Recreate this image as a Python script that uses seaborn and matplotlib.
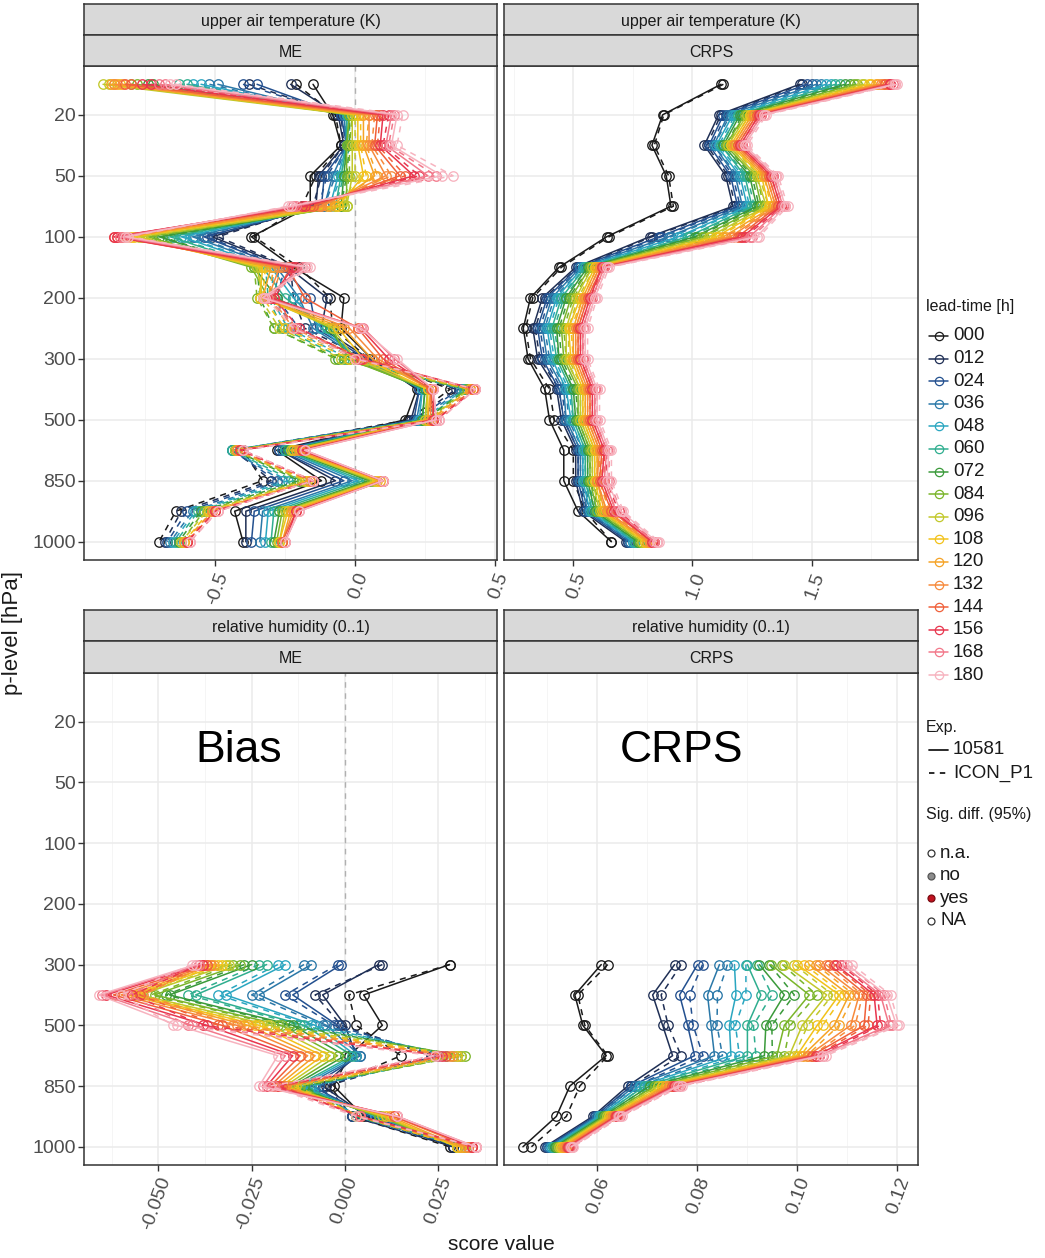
import numpy as np
import pandas as pd
import matplotlib
matplotlib.use("Agg")
import matplotlib.pyplot as plt
import seaborn as sns
from matplotlib.lines import Line2D

# ---------------- data ----------------
LEVELS = [10, 20, 30, 50, 70, 100, 150, 200, 250, 300, 400, 500, 700, 850, 925, 1000]
LEVEL_TICKS = [20, 50, 100, 200, 300, 500, 850, 1000]
RH_LEVELS = [300, 400, 500, 700, 850, 925, 1000]
LEADS = ["000", "012", "024", "036", "048", "060", "072", "084",
         "096", "108", "120", "132", "144", "156", "168", "180"]
EXPS = ["10581", "ICON_P1"]
LEAD_COLORS = ["#1a1a1a", "#1f2f55", "#23508f", "#2a78a8", "#2aa6c0", "#2fae8f",
               "#3a9a3a", "#7ab52a", "#c2c82a", "#f2c21a", "#f5a326", "#f78a3c",
               "#f0603a", "#e8364e", "#f2788a", "#f7b3bf"]

# rows = pressure levels (LEVELS), columns = lead times (LEADS)
temp_me_10581 = [
    [-0.15, -0.23, -0.35, -0.49, -0.55, -0.60, -0.74, -0.78, -0.90, -0.86, -0.87, -0.83, -0.82, -0.76, -0.70, -0.66],
    [-0.08, -0.06, -0.05, -0.04, -0.03, -0.03, -0.02, -0.02, -0.01, 0.01, 0.03, 0.05, 0.08, 0.10, 0.13, 0.15],
    [-0.05, -0.04, -0.03, -0.03, -0.03, -0.03, -0.03, -0.03, -0.01, 0.01, 0.03, 0.05, 0.07, 0.09, 0.11, 0.13],
    [-0.16, -0.13, -0.11, -0.08, -0.06, -0.05, -0.04, -0.03, -0.01, 0.03, 0.07, 0.11, 0.16, 0.21, 0.26, 0.31],
    [-0.16, -0.14, -0.12, -0.11, -0.09, -0.07, -0.05, -0.03, -0.03, -0.06, -0.09, -0.12, -0.15, -0.18, -0.21, -0.23],
    [-0.37, -0.51, -0.54, -0.58, -0.62, -0.66, -0.70, -0.74, -0.77, -0.80, -0.82, -0.84, -0.86, -0.86, -0.84, -0.82],
    [-0.22, -0.24, -0.26, -0.28, -0.30, -0.33, -0.36, -0.37, -0.35, -0.33, -0.30, -0.27, -0.24, -0.22, -0.19, -0.17],
    [-0.04, -0.10, -0.16, -0.20, -0.22, -0.25, -0.28, -0.31, -0.33, -0.34, -0.33, -0.31, -0.18, -0.30, -0.32, -0.33],
    [-0.05, -0.12, -0.14, -0.15, -0.12, -0.10, -0.09, -0.08, -0.08, -0.06, -0.04, -0.02, 0.01, 0.02, 0.03, 0.02],
    [0.06, 0.05, 0.04, 0.02, 0.01, 0.00, -0.02, -0.03, 0.00, 0.03, 0.06, 0.08, 0.10, 0.12, 0.14, 0.15],
    [0.22, 0.23, 0.23, 0.24, 0.24, 0.25, 0.25, 0.26, 0.26, 0.26, 0.27, 0.27, 0.27, 0.28, 0.28, 0.28],
    [0.18, 0.20, 0.21, 0.22, 0.23, 0.24, 0.24, 0.25, 0.25, 0.26, 0.26, 0.27, 0.28, 0.28, 0.29, 0.29],
    [-0.28, -0.27, -0.27, -0.26, -0.25, -0.25, -0.24, -0.23, -0.23, -0.22, -0.21, -0.20, -0.19, -0.19, -0.18, -0.18],
    [-0.12, -0.07, -0.04, -0.01, 0.01, 0.03, 0.05, 0.06, 0.07, 0.08, 0.09, 0.10, 0.10, 0.10, 0.10, 0.10],
    [-0.43, -0.39, -0.36, -0.33, -0.31, -0.29, -0.27, -0.26, -0.25, -0.24, -0.23, -0.22, -0.21, -0.21, -0.20, -0.20],
    [-0.40, -0.39, -0.37, -0.34, -0.32, -0.30, -0.29, -0.28, -0.27, -0.27, -0.26, -0.26, -0.26, -0.25, -0.25, -0.25],
]
temp_me_icon = [
    [-0.21, -0.38, -0.40, -0.52, -0.58, -0.63, -0.72, -0.80, -0.88, -0.84, -0.85, -0.86, -0.80, -0.73, -0.68, -0.64],
    [-0.07, -0.05, -0.05, -0.04, -0.03, -0.02, -0.02, -0.01, 0.00, 0.02, 0.05, 0.07, 0.09, 0.12, 0.14, 0.17],
    [-0.05, -0.04, -0.03, -0.03, -0.03, -0.02, -0.02, -0.02, 0.00, 0.02, 0.04, 0.06, 0.08, 0.10, 0.12, 0.15],
    [-0.14, -0.12, -0.10, -0.07, -0.05, -0.04, -0.03, -0.02, 0.00, 0.04, 0.08, 0.13, 0.18, 0.23, 0.29, 0.35],
    [-0.19, -0.15, -0.13, -0.11, -0.09, -0.07, -0.05, -0.04, -0.04, -0.07, -0.10, -0.13, -0.16, -0.19, -0.22, -0.24],
    [-0.36, -0.49, -0.53, -0.57, -0.61, -0.65, -0.69, -0.73, -0.76, -0.79, -0.81, -0.83, -0.85, -0.85, -0.83, -0.81],
    [-0.20, -0.23, -0.25, -0.27, -0.29, -0.32, -0.35, -0.36, -0.34, -0.32, -0.29, -0.26, -0.23, -0.21, -0.18, -0.16],
    [-0.09, -0.22, -0.28, -0.29, -0.30, -0.31, -0.34, -0.35, -0.34, -0.33, -0.31, -0.30, -0.29, -0.29, -0.31, -0.32],
    [-0.08, -0.18, -0.20, -0.22, -0.24, -0.26, -0.29, -0.29, -0.27, -0.25, -0.23, -0.22, -0.21, -0.20, -0.21, -0.22],
    [0.05, 0.04, 0.02, 0.00, -0.02, -0.04, -0.06, -0.07, -0.05, -0.02, 0.00, 0.02, 0.03, 0.02, 0.01, 0.00],
    [0.34, 0.36, 0.37, 0.38, 0.39, 0.39, 0.40, 0.40, 0.41, 0.41, 0.41, 0.42, 0.42, 0.43, 0.43, 0.43],
    [0.19, 0.21, 0.22, 0.23, 0.24, 0.25, 0.25, 0.26, 0.26, 0.27, 0.27, 0.28, 0.29, 0.29, 0.30, 0.30],
    [-0.40, -0.43, -0.44, -0.44, -0.44, -0.44, -0.43, -0.43, -0.43, -0.42, -0.42, -0.42, -0.41, -0.41, -0.40, -0.40],
    [-0.33, -0.30, -0.28, -0.26, -0.24, -0.22, -0.20, -0.19, -0.18, -0.17, -0.16, -0.16, -0.15, -0.15, -0.15, -0.15],
    [-0.64, -0.62, -0.60, -0.58, -0.57, -0.56, -0.55, -0.54, -0.53, -0.52, -0.51, -0.51, -0.50, -0.50, -0.49, -0.49],
    [-0.70, -0.68, -0.67, -0.66, -0.65, -0.64, -0.63, -0.62, -0.62, -0.61, -0.61, -0.60, -0.60, -0.60, -0.59, -0.59],
]
temp_crps_10581 = [
    [1.12, 1.45, 1.48, 1.52, 1.56, 1.60, 1.64, 1.68, 1.71, 1.74, 1.77, 1.79, 1.81, 1.83, 1.84, 1.85],
    [0.875, 1.11, 1.13, 1.15, 1.17, 1.19, 1.20, 1.22, 1.23, 1.24, 1.25, 1.26, 1.27, 1.28, 1.29, 1.30],
    [0.83, 1.05, 1.07, 1.09, 1.10, 1.12, 1.13, 1.14, 1.15, 1.16, 1.17, 1.18, 1.19, 1.20, 1.21, 1.22],
    [0.89, 1.14, 1.16, 1.18, 1.20, 1.22, 1.24, 1.26, 1.27, 1.29, 1.30, 1.31, 1.32, 1.33, 1.34, 1.35],
    [0.91, 1.17, 1.19, 1.21, 1.23, 1.25, 1.27, 1.29, 1.31, 1.32, 1.34, 1.35, 1.36, 1.37, 1.38, 1.39],
    [0.64, 0.82, 0.86, 0.90, 0.94, 0.98, 1.01, 1.04, 1.07, 1.10, 1.13, 1.16, 1.19, 1.21, 1.24, 1.27],
    [0.44, 0.51, 0.52, 0.53, 0.54, 0.55, 0.56, 0.57, 0.58, 0.59, 0.60, 0.61, 0.62, 0.62, 0.63, 0.64],
    [0.32, 0.37, 0.39, 0.41, 0.43, 0.45, 0.47, 0.49, 0.51, 0.53, 0.54, 0.55, 0.56, 0.57, 0.58, 0.59],
    [0.29, 0.33, 0.35, 0.37, 0.39, 0.41, 0.43, 0.45, 0.47, 0.48, 0.50, 0.51, 0.52, 0.53, 0.54, 0.55],
    [0.31, 0.35, 0.37, 0.39, 0.41, 0.43, 0.44, 0.46, 0.47, 0.49, 0.50, 0.51, 0.52, 0.53, 0.54, 0.55],
    [0.38, 0.43, 0.44, 0.46, 0.47, 0.49, 0.50, 0.52, 0.53, 0.54, 0.55, 0.56, 0.57, 0.58, 0.59, 0.60],
    [0.40, 0.45, 0.46, 0.47, 0.49, 0.50, 0.51, 0.52, 0.53, 0.54, 0.55, 0.56, 0.57, 0.58, 0.59, 0.60],
    [0.46, 0.51, 0.52, 0.53, 0.54, 0.55, 0.56, 0.57, 0.58, 0.59, 0.60, 0.61, 0.62, 0.63, 0.64, 0.65],
    [0.46, 0.51, 0.52, 0.53, 0.54, 0.55, 0.56, 0.57, 0.58, 0.59, 0.60, 0.60, 0.61, 0.62, 0.63, 0.64],
    [0.52, 0.54, 0.55, 0.56, 0.57, 0.58, 0.59, 0.60, 0.61, 0.62, 0.63, 0.64, 0.66, 0.67, 0.68, 0.70],
    [0.66, 0.72, 0.73, 0.74, 0.75, 0.76, 0.77, 0.78, 0.79, 0.80, 0.81, 0.82, 0.83, 0.83, 0.84, 0.85],
]
temp_crps_icon = [
    [1.13, 1.46, 1.50, 1.54, 1.58, 1.62, 1.66, 1.69, 1.72, 1.75, 1.78, 1.80, 1.82, 1.83, 1.85, 1.86],
    [0.88, 1.12, 1.14, 1.16, 1.18, 1.19, 1.21, 1.22, 1.24, 1.25, 1.26, 1.27, 1.28, 1.29, 1.30, 1.31],
    [0.84, 1.06, 1.08, 1.09, 1.11, 1.12, 1.14, 1.15, 1.16, 1.17, 1.18, 1.19, 1.20, 1.21, 1.22, 1.23],
    [0.90, 1.15, 1.17, 1.19, 1.21, 1.23, 1.25, 1.27, 1.28, 1.30, 1.31, 1.32, 1.33, 1.34, 1.35, 1.36],
    [0.92, 1.18, 1.20, 1.22, 1.24, 1.26, 1.28, 1.30, 1.32, 1.33, 1.35, 1.36, 1.37, 1.38, 1.39, 1.40],
    [0.65, 0.83, 0.87, 0.91, 0.95, 0.99, 1.02, 1.05, 1.08, 1.11, 1.14, 1.17, 1.20, 1.22, 1.25, 1.28],
    [0.45, 0.52, 0.53, 0.54, 0.55, 0.56, 0.57, 0.58, 0.59, 0.60, 0.61, 0.62, 0.63, 0.63, 0.64, 0.65],
    [0.33, 0.38, 0.40, 0.42, 0.44, 0.46, 0.48, 0.50, 0.52, 0.54, 0.55, 0.56, 0.57, 0.58, 0.59, 0.60],
    [0.30, 0.34, 0.36, 0.38, 0.40, 0.42, 0.44, 0.46, 0.48, 0.49, 0.51, 0.52, 0.53, 0.54, 0.55, 0.56],
    [0.32, 0.36, 0.38, 0.40, 0.42, 0.44, 0.45, 0.47, 0.48, 0.50, 0.51, 0.52, 0.53, 0.54, 0.55, 0.56],
    [0.40, 0.44, 0.45, 0.47, 0.48, 0.50, 0.51, 0.53, 0.54, 0.55, 0.56, 0.57, 0.58, 0.59, 0.60, 0.61],
    [0.42, 0.46, 0.47, 0.48, 0.50, 0.51, 0.52, 0.53, 0.54, 0.55, 0.56, 0.57, 0.58, 0.59, 0.60, 0.61],
    [0.50, 0.52, 0.53, 0.54, 0.55, 0.56, 0.57, 0.58, 0.59, 0.60, 0.61, 0.62, 0.63, 0.64, 0.65, 0.66],
    [0.50, 0.52, 0.53, 0.54, 0.55, 0.56, 0.57, 0.58, 0.59, 0.60, 0.61, 0.62, 0.63, 0.64, 0.65, 0.66],
    [0.55, 0.56, 0.57, 0.58, 0.59, 0.60, 0.61, 0.62, 0.63, 0.64, 0.65, 0.66, 0.68, 0.69, 0.70, 0.71],
    [0.66, 0.73, 0.74, 0.75, 0.76, 0.77, 0.78, 0.79, 0.80, 0.81, 0.82, 0.83, 0.84, 0.84, 0.85, 0.86],
]
# rows = RH_LEVELS, columns = LEADS
rh_me_10581 = [
    [0.028, 0.009, -0.001, -0.009, -0.016, -0.021, -0.025, -0.028, -0.031, -0.033, -0.035, -0.036, -0.037, -0.038, -0.039, -0.040],
    [0.005, -0.006, -0.014, -0.023, -0.032, -0.040, -0.047, -0.051, -0.055, -0.057, -0.058, -0.060, -0.062, -0.064, -0.065, -0.066],
    [0.010, 0.000, -0.002, -0.005, -0.008, -0.011, -0.014, -0.017, -0.020, -0.023, -0.026, -0.029, -0.033, -0.037, -0.041, -0.045],
    [0.001, 0.003, 0.004, 0.004, 0.003, 0.002, 0.000, -0.002, -0.004, -0.006, -0.008, -0.010, -0.012, -0.014, -0.016, -0.018],
    [-0.003, -0.006, -0.009, -0.011, -0.012, -0.013, -0.014, -0.015, -0.016, -0.017, -0.018, -0.019, -0.020, -0.021, -0.022, -0.023],
    [0.005, 0.006, 0.007, 0.008, 0.008, 0.009, 0.009, 0.009, 0.010, 0.011, 0.012, 0.013, 0.013, 0.014, 0.014, 0.014],
    [0.029, 0.029, 0.030, 0.031, 0.032, 0.032, 0.031, 0.030, 0.030, 0.030, 0.031, 0.033, 0.034, 0.034, 0.035, 0.035],
]
rh_me_icon = [
    [0.028, 0.010, -0.002, -0.011, -0.018, -0.023, -0.027, -0.030, -0.032, -0.034, -0.036, -0.037, -0.038, -0.039, -0.040, -0.041],
    [0.001, -0.008, -0.016, -0.025, -0.034, -0.042, -0.048, -0.052, -0.055, -0.056, -0.055, -0.054, -0.055, -0.057, -0.058, -0.060],
    [0.003, -0.001, -0.003, -0.006, -0.009, -0.012, -0.015, -0.018, -0.021, -0.024, -0.027, -0.030, -0.034, -0.038, -0.042, -0.046],
    [0.015, 0.023, 0.025, 0.027, 0.029, 0.030, 0.031, 0.032, 0.031, 0.030, 0.029, 0.028, 0.027, 0.026, 0.025, 0.024],
    [-0.004, -0.005, -0.007, -0.008, -0.009, -0.010, -0.011, -0.012, -0.013, -0.014, -0.015, -0.016, -0.017, -0.018, -0.019, -0.020],
    [0.002, 0.002, 0.002, 0.003, 0.003, 0.003, 0.003, 0.003, 0.004, 0.004, 0.004, 0.004, 0.004, 0.004, 0.004, 0.003],
    [0.028, 0.029, 0.030, 0.031, 0.032, 0.033, 0.033, 0.032, 0.031, 0.031, 0.032, 0.033, 0.034, 0.035, 0.035, 0.035],
]
rh_crps_10581 = [
    [0.0608, 0.0755, 0.0801, 0.0845, 0.0875, 0.0901, 0.0925, 0.0948, 0.0975, 0.1001, 0.1025, 0.1045, 0.1065, 0.1078, 0.1091, 0.1101],
    [0.0555, 0.0711, 0.0765, 0.0821, 0.0878, 0.0928, 0.0975, 0.1025, 0.1060, 0.1085, 0.1105, 0.1125, 0.1140, 0.1155, 0.1168, 0.1180],
    [0.0571, 0.0731, 0.0781, 0.0828, 0.0865, 0.0901, 0.0938, 0.0975, 0.1011, 0.1041, 0.1075, 0.1108, 0.1135, 0.1161, 0.1185, 0.1200],
    [0.0618, 0.0751, 0.0795, 0.0835, 0.0868, 0.0901, 0.0935, 0.0960, 0.0985, 0.1000, 0.1012, 0.1022, 0.1030, 0.1038, 0.1045, 0.1050],
    [0.0545, 0.0661, 0.0668, 0.0675, 0.0685, 0.0695, 0.0705, 0.0715, 0.0722, 0.0730, 0.0737, 0.0743, 0.0749, 0.0754, 0.0758, 0.0762],
    [0.0518, 0.0591, 0.0595, 0.0599, 0.0603, 0.0607, 0.0611, 0.0615, 0.0619, 0.0623, 0.0627, 0.0631, 0.0635, 0.0638, 0.0641, 0.0644],
    [0.0451, 0.0495, 0.0499, 0.0503, 0.0507, 0.0511, 0.0515, 0.0519, 0.0523, 0.0527, 0.0531, 0.0535, 0.0539, 0.0542, 0.0545, 0.0548],
]
rh_crps_icon = [
    [0.0621, 0.0768, 0.0811, 0.0861, 0.0898, 0.0921, 0.0945, 0.0971, 0.0995, 0.1015, 0.1038, 0.1058, 0.1075, 0.1088, 0.1101, 0.1111],
    [0.0561, 0.0728, 0.0785, 0.0841, 0.0898, 0.0950, 0.0995, 0.1040, 0.1072, 0.1095, 0.1115, 0.1132, 0.1148, 0.1162, 0.1175, 0.1188],
    [0.0575, 0.0742, 0.0792, 0.0840, 0.0877, 0.0913, 0.0950, 0.0987, 0.1022, 0.1052, 0.1085, 0.1117, 0.1143, 0.1168, 0.1190, 0.1205],
    [0.0621, 0.0768, 0.0812, 0.0851, 0.0885, 0.0918, 0.0951, 0.0975, 0.0995, 0.1008, 0.1020, 0.1030, 0.1038, 0.1045, 0.1052, 0.1058],
    [0.0565, 0.0668, 0.0676, 0.0684, 0.0694, 0.0704, 0.0713, 0.0722, 0.0730, 0.0737, 0.0744, 0.0750, 0.0756, 0.0761, 0.0765, 0.0769],
    [0.0538, 0.0596, 0.0600, 0.0604, 0.0608, 0.0612, 0.0616, 0.0620, 0.0624, 0.0628, 0.0632, 0.0636, 0.0640, 0.0643, 0.0646, 0.0649],
    [0.0468, 0.0500, 0.0504, 0.0508, 0.0512, 0.0516, 0.0520, 0.0524, 0.0528, 0.0532, 0.0536, 0.0540, 0.0543, 0.0546, 0.0549, 0.0552],
]

# ---------------- styling ----------------
sns.set_theme(style="white")
plt.rcParams["font.family"] = ["Liberation Sans", "DejaVu Sans"]

W, H = 1045, 1258
fig = plt.figure(figsize=(W / 100, H / 100), dpi=100)
fig.patch.set_facecolor("white")


def fax(l, t, r, b):
    return fig.add_axes([l / W, 1 - b / H, (r - l) / W, (b - t) / H])


def fx(x):
    return x / W


def fy(y):
    return 1 - y / H


def long_df(rows, levels, exp):
    recs = []
    for lev, vals in zip(levels, rows):
        for lead, v in zip(LEADS, vals):
            recs.append({"pos": LEVELS.index(lev), "lead": lead, "exp": exp, "value": v})
    return recs


def strip(l, t, r, b, text):
    a = fax(l, t, r, b)
    a.set_facecolor("#d9d9d9")
    a.set_xticks([])
    a.set_yticks([])
    for s in a.spines.values():
        s.set_color("#333333")
        s.set_linewidth(1.1)
    a.text(0.5, 0.45, text, ha="center", va="center", fontsize=11.5,
           color="#1a1a1a", transform=a.transAxes)


palette = dict(zip(LEADS, LEAD_COLORS))

panels = [
    dict(box=(84, 66, 497, 560), strips=("upper air temperature (K)", "ME"), st=4,
         solid=temp_me_10581, dashed=temp_me_icon, levels=LEVELS,
         xlim=(-0.968, 0.507), major=[-0.5, 0.0, 0.5], labels=["-0.5", "0.0", "0.5"],
         minor=[-0.75, -0.25, 0.25], zero=True, ylab=True),
    dict(box=(504, 66, 918, 560), strips=("upper air temperature (K)", "CRPS"), st=4,
         solid=temp_crps_10581, dashed=temp_crps_icon, levels=LEVELS,
         xlim=(0.209, 1.947), major=[0.5, 1.0, 1.5], labels=["0.5", "1.0", "1.5"],
         minor=[0.25, 0.75, 1.25, 1.75], zero=False, ylab=False),
    dict(box=(84, 673, 497, 1165), strips=("relative humidity (0..1)", "ME"), st=610,
         solid=rh_me_10581, dashed=rh_me_icon, levels=RH_LEVELS,
         xlim=(-0.0699, 0.0407), major=[-0.05, -0.025, 0.0, 0.025],
         labels=["-0.050", "-0.025", "0.000", "0.025"],
         minor=[-0.0625, -0.0375, -0.0125, 0.0125, 0.0375], zero=True, ylab=True),
    dict(box=(504, 673, 918, 1165), strips=("relative humidity (0..1)", "CRPS"), st=610,
         solid=rh_crps_10581, dashed=rh_crps_icon, levels=RH_LEVELS,
         xlim=(0.0413, 0.1243), major=[0.06, 0.08, 0.10, 0.12],
         labels=["0.06", "0.08", "0.10", "0.12"],
         minor=[0.05, 0.07, 0.09, 0.11], zero=False, ylab=False),
]

for p in panels:
    l, t, r, b = p["box"]
    ax = fax(l, t, r, b)
    st = p["st"]
    strip(l, st, r, st + 31, p["strips"][0])
    strip(l, st + 31, r, t, p["strips"][1])

    df = pd.DataFrame(long_df(p["solid"], p["levels"], "10581") +
                      long_df(p["dashed"], p["levels"], "ICON_P1"))
    ax.set_axisbelow(True)
    if p["zero"]:
        ax.axvline(0, color="#b0b0b0", lw=1.0, ls=(0, (4, 4)), zorder=1.2)
    sns.lineplot(data=df, x="value", y="pos", hue="lead", style="exp",
                 hue_order=LEADS, style_order=EXPS, palette=palette,
                 dashes={"10581": "", "ICON_P1": (4, 3.5)},
                 marker="o", markersize=6.8, mew=0.95, linewidth=1.1,
                 estimator=None, sort=True, orient="y", legend=False, ax=ax)
    for ln in ax.lines:
        if ln.get_marker() == "o":
            ln.set_markerfacecolor("none")
            ln.set_markeredgecolor(ln.get_color())

    ax.set_xlim(*p["xlim"])
    ax.set_ylim(15.6, -0.6)
    ax.set_xticks(p["major"])
    ax.set_xticklabels(p["labels"], rotation=70, ha="right", va="top",
                       rotation_mode="anchor")
    ax.set_xticks(p["minor"], minor=True)
    ytick_pos = [LEVELS.index(v) for v in LEVEL_TICKS]
    ax.set_yticks(ytick_pos)
    if p["ylab"]:
        ax.set_yticklabels([str(v) for v in LEVEL_TICKS])
        ax.tick_params(axis="y", length=4, width=1.0, color="#333333",
                       labelsize=14, labelcolor="#4d4d4d", pad=2, left=True)
    else:
        ax.set_yticklabels([])
        ax.tick_params(axis="y", length=0)
    ax.tick_params(axis="x", which="major", length=4, width=1.0, color="#333333",
                   labelsize=14, labelcolor="#4d4d4d", pad=3, bottom=True)
    ax.tick_params(which="minor", length=0)
    ax.grid(which="major", color="#ebebeb", lw=1.1)
    ax.grid(which="minor", axis="x", color="#f4f4f4", lw=0.6)
    ax.set_xlabel("")
    ax.set_ylabel("")
    for s in ax.spines.values():
        s.set_color("#333333")
        s.set_linewidth(1.1)
        s.set_visible(True)
    ax.set_facecolor("white")

# annotations inside bottom panels
fig.text(fx(239), fy(762), "Bias", ha="center", va="baseline", fontsize=32, color="black")
fig.text(fx(682), fy(762), "CRPS", ha="center", va="baseline", fontsize=32, color="black")

# axis titles
fig.text(fx(501), fy(1245), "score value", ha="center", va="center", fontsize=15, color="#1a1a1a")
fig.text(fx(13), fy(633), "p-level [hPa]", ha="center", va="center", rotation=90,
         fontsize=16, color="#1a1a1a")

# ---------------- legends ----------------
fig.text(fx(926), fy(307), "lead-time [h]", ha="left", va="center", fontsize=11.5, color="#1a1a1a")
y0, dy = 336, 22.6
for i, (lead, c) in enumerate(zip(LEADS, LEAD_COLORS)):
    y = y0 + i * dy
    fig.add_artist(Line2D([fx(929), fx(948)], [fy(y), fy(y)], color=c, lw=1.1))
    fig.add_artist(Line2D([fx(938.5)], [fy(y)], marker="o", ms=6, mfc="none", mec=c, mew=0.9, lw=0))
    fig.text(fx(953), fy(y), lead, ha="left", va="center", fontsize=13.5, color="#1a1a1a")

fig.text(fx(926), fy(727), "Exp.", ha="left", va="center", fontsize=11.5, color="#1a1a1a")
for y, lab, ls in [(750, "10581", "-"), (773, "ICON_P1", (0, (3, 3)))]:
    fig.add_artist(Line2D([fx(929), fx(948)], [fy(y), fy(y)], color="#1a1a1a", lw=1.3, ls=ls))
    fig.text(fx(953), fy(y), lab, ha="left", va="center", fontsize=13.5, color="#1a1a1a")

fig.text(fx(926), fy(815), "Sig. diff. (95%)", ha="left", va="center", fontsize=11.5, color="#1a1a1a")
sig = [("n.a.", "none", "#333333"), ("no", "#8c8c8c", "#555555"),
       ("yes", "#c1121f", "#7a0a10"), ("NA", "none", "#333333")]
for i, (lab, fc, ec) in enumerate(sig):
    y = 853 + i * 22.6
    fig.add_artist(Line2D([fx(931)], [fy(y)], marker="o", ms=5, mfc=fc, mec=ec, mew=0.9, lw=0))
    fig.text(fx(940), fy(y), lab, ha="left", va="center", fontsize=13.5, color="#1a1a1a")

fig.savefig("out.png", dpi=100, facecolor="white")
